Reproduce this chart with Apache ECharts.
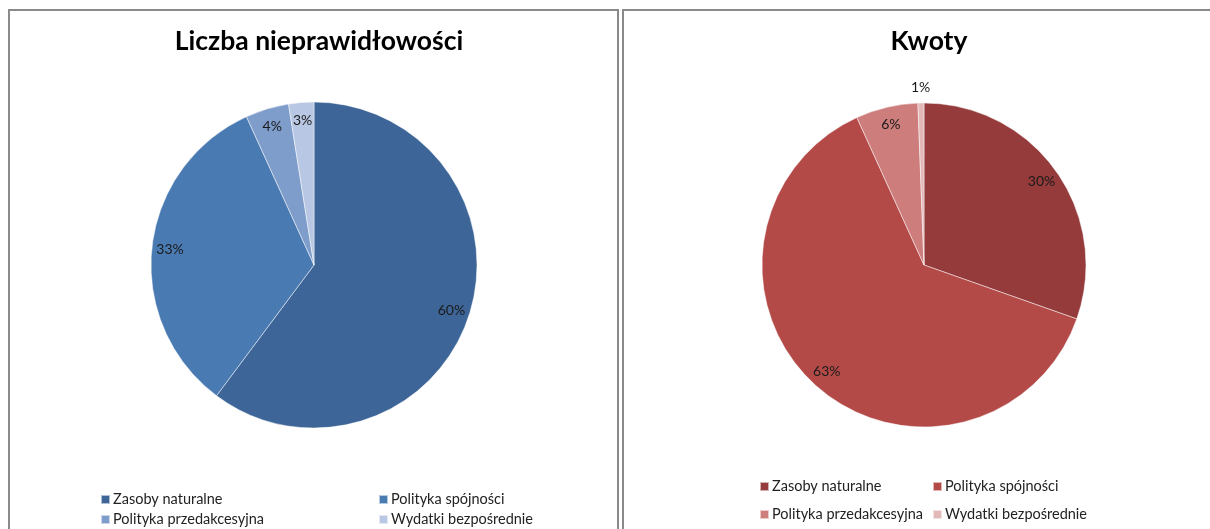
<!DOCTYPE html>
<html>
<head>
<meta charset="utf-8">
<script src="https://cdn.jsdelivr.net/npm/echarts@6/dist/echarts.min.js"></script>
<style>
html,body{margin:0;padding:0;background:#fff;width:1210px;height:529px;overflow:hidden;}
.panel{position:absolute;border:2px solid #8a8a8a;box-sizing:border-box;}
.chart{position:absolute;left:0;top:0;width:1210px;height:529px;}
</style>
</head>
<body>
<div class="panel" style="left:8px;top:9px;width:611px;height:560px;"></div>
<div class="panel" style="left:622px;top:9px;width:620px;height:560px;"></div>
<div id="c1" class="chart"></div>
<div id="c2" class="chart"></div>
<script>
// ---- data ----
const categories = ['Zasoby naturalne', 'Polityka spójności', 'Polityka przedakcesyjna', 'Wydatki bezpośrednie'];
const countShares = [60.2, 33.0, 4.3, 2.5];   // Liczba nieprawidłowości (%)
const amountShares = [30.4, 62.8, 6.2, 0.6];  // Kwoty (%)
const titles = ['Liczba nieprawidłowości', 'Kwoty'];
const blueColors = ['#3d6597', '#4a7ab2', '#7f9dcb', '#b8c7e3'];
const redColors = ['#953b3b', '#b34a48', '#cd7d7c', '#e3b8b8'];
// labels placed outside the pie (others inside)
const outsideLabel = [[false, false, false, false], [false, false, false, true]];

const FONT = 'Lato, "Open Sans", sans-serif';

function buildOption(title, values, colors, cx, r, outs, legendPos) {
  const main = values.map((v, i) => ({ name: categories[i], value: v }));
  const inner = values.map((v, i) => ({ name: categories[i], value: v, label: { show: !outs[i] } }));
  const outer = values.map((v, i) => ({ name: categories[i], value: v, label: { show: outs[i] } }));
  const overlayBase = {
    type: 'pie', center: [cx, 265], startAngle: 90, clockwise: true,
    silent: true, legendHoverLink: false, avoidLabelOverlap: false,
    itemStyle: { color: 'transparent', borderWidth: 0 },
    emphasis: { disabled: true },
    labelLine: { show: false },
    labelLayout: { hideOverlap: false },
    label: {
      position: 'inside', color: '#1a1a1a', fontSize: 14, fontFamily: FONT,
      formatter: p => Math.round(p.percent) + '%'
    }
  };
  return {
    animation: false,
    color: colors,
    title: {
      text: title, left: cx, top: 23, textAlign: 'center',
      textStyle: { fontFamily: FONT, fontWeight: 'bold', fontSize: 26.5, color: '#000' }
    },
    legend: legendPos.map((p, i) => ({
      data: [categories[i]], left: p[0], top: p[1], orient: 'horizontal',
      icon: 'rect', itemWidth: 9, itemHeight: 9, itemGap: 0, padding: 0,
      selectedMode: false,
      textStyle: { fontFamily: FONT, fontSize: 14.5, color: '#222', padding: [0, 0, 0, -2] }
    })),
    series: [
      {
        type: 'pie', center: [cx, 265], radius: [0, r], startAngle: 90, clockwise: true,
        data: main, label: { show: false }, labelLine: { show: false },
        itemStyle: { borderColor: 'rgba(255,255,255,0.6)', borderWidth: 0.8 },
        emphasis: { disabled: true }
      },
      Object.assign({}, overlayBase, { radius: [r * 0.74, r], data: inner }),
      Object.assign({}, overlayBase, { radius: [r, r * 1.16], data: outer })
    ]
  };
}

const c1 = echarts.init(document.getElementById('c1'), null, { renderer: 'canvas' });
c1.setOption(buildOption(titles[0], countShares, blueColors, 314, 163, outsideLabel[0],
  [[100, 492], [378, 492], [100, 512], [378, 512]]));
const c2 = echarts.init(document.getElementById('c2'), null, { renderer: 'canvas' });
c2.setOption(buildOption(titles[1], amountShares, redColors, 924, 162, outsideLabel[1],
  [[759, 479], [932, 479], [759, 507], [932, 507]]));
</script>
</body>
</html>
